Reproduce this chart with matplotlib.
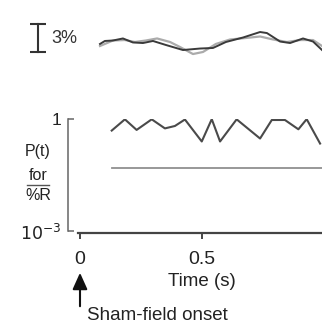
import matplotlib
matplotlib.use("Agg")
import matplotlib.pyplot as plt
from matplotlib.ticker import NullLocator, FixedLocator, FixedFormatter

plt.rcParams['font.family'] = ['Liberation Sans', 'DejaVu Sans']

# ---- data ----
t_dark = [0.082, 0.102, 0.135, 0.176, 0.217, 0.258, 0.299, 0.352, 0.422, 0.492,
          0.545, 0.598, 0.668, 0.738, 0.766, 0.820, 0.861, 0.914, 0.955, 0.992]
v_dark = [-0.21, 0.11, 0.16, 0.38, -0.05, -0.11, 0.11, -0.32, -0.86, -0.70,
          -0.64, 0.00, 0.48, 1.07, 0.96, 0.05, -0.11, 0.38, 0.05, -0.86]
t_gray = [0.082, 0.135, 0.184, 0.225, 0.270, 0.316, 0.369, 0.410, 0.463, 0.504,
          0.557, 0.615, 0.680, 0.738, 0.791, 0.848, 0.902, 0.955, 0.992]
v_gray = [-0.43, 0.16, 0.21, 0.00, 0.16, 0.38, 0.00, -0.54, -1.29, -1.07,
          -0.21, 0.27, 0.43, 0.59, 0.27, 0.00, 0.21, 0.21, -0.43]
t_p = [0.130, 0.184, 0.232, 0.294, 0.348, 0.389, 0.430, 0.499, 0.540, 0.574,
       0.642, 0.738, 0.786, 0.840, 0.895, 0.929, 0.984]
p_vals = [0.49, 0.98, 0.51, 0.98, 0.56, 0.65, 0.97, 0.25, 0.99, 0.25,
          0.98, 0.30, 0.94, 0.94, 0.53, 0.99, 0.22]
threshold = 0.05
threshold_t = [0.130, 1.0]
x_ticks = [0, 0.5, 1.0]
x_ticklabels = ['0', '0.5', '1']
y_ticks = [1e-3, 1]
y_ticklabels = ['$10^{-3}$', '1']
scale_pct = 3

W, H = 322, 325
fig = plt.figure(figsize=(W / 100, H / 100), dpi=100)

def rect(l, r, top, bot):
    return [l / W, 1 - bot / H, (r - l) / W, (bot - top) / H]

xlim = ((78 - 80) / 244, (322 - 80) / 244)

# ---- top traces ----
axt = fig.add_axes(rect(78, 322, 15, 62))
axt.set_xlim(*xlim)
axt.set_ylim(-2.144, 2.894)
axt.axis('off')
axt.plot(t_gray, v_gray, color='#ababab', lw=1.6, solid_joinstyle='round')
axt.plot(t_dark, v_dark, color='#3a3a3a', lw=1.4, solid_joinstyle='round')
# scale bar
xb = (38.3 - 80) / 244
y0, y1 = -1.1, -1.1 + scale_pct
axt.plot([xb, xb], [y0, y1], color='#333333', lw=1.5, clip_on=False)
axt.plot([xb, xb], [y0, y1], ls='none', marker='_', ms=11, mew=1.5,
         color='#333333', clip_on=False)
axt.text((51 - 80) / 244, 0.4, f'{scale_pct}%', fontsize=13, color='#333333',
         va='center', ha='left', clip_on=False)

# ---- bottom P(t) panel ----
ax = fig.add_axes(rect(78, 322, 119, 231))
ax.set_yscale('log')
ax.set_xlim(*xlim)
ax.set_ylim(1e-3, 1)
ax.plot(t_p, p_vals, color='#4a4a4a', lw=1.5, solid_joinstyle='round')
ax.plot(threshold_t, [threshold, threshold], color='#909090', lw=1.3)

for s in ['top', 'right']:
    ax.spines[s].set_visible(False)
ax.spines['left'].set_position(('outward', 7))
ax.spines['left'].set_color('#666666')
ax.spines['left'].set_linewidth(1.1)
ax.spines['bottom'].set_position(('outward', 1.5))
ax.spines['bottom'].set_color('#444444')
ax.spines['bottom'].set_linewidth(1.6)

ax.yaxis.set_major_locator(FixedLocator(y_ticks))
ax.yaxis.set_major_formatter(FixedFormatter(y_ticklabels))
ax.yaxis.set_minor_locator(NullLocator())
ax.tick_params(axis='y', direction='in', length=4, width=1.1, color='#666666',
               labelsize=12.5, pad=5, labelcolor='#222222')
ax.xaxis.set_major_locator(FixedLocator(x_ticks))
ax.xaxis.set_major_formatter(FixedFormatter(x_ticklabels))
ax.tick_params(axis='x', direction='out', length=4, width=1.4, color='#444444',
               labelsize=14, pad=9, labelcolor='#222222')

ax.text(0.5, -0.455, 'Time (s)', transform=ax.get_xaxis_transform(),
        fontsize=13.5, ha='center', va='center', color='#222222')

# y label stack
xl = 38 / W
fig.text(xl, 1 - 152 / H, 'P(t)', fontsize=11.5, ha='center', va='center', color='#222222')
fig.text(xl, 1 - 175 / H, 'for', fontsize=11.5, ha='center', va='center', color='#222222')
fig.add_artist(plt.Line2D([27 / W, 49 / W], [1 - 185 / H, 1 - 185 / H],
                          color='#555555', lw=1.0))
fig.text(xl, 1 - 196 / H, '%R', fontsize=11.5, ha='center', va='center', color='#222222')

# onset arrow
ax.annotate('', xy=(0, 1 - 270 / H), xycoords=('data', 'figure fraction'),
            xytext=(0, 1 - 309 / H), textcoords=('data', 'figure fraction'),
            arrowprops=dict(arrowstyle='-|>,head_width=0.45,head_length=1.0',
                            color='#111111', lw=1.5),
            annotation_clip=False)
fig.text(87 / W, 1 - 315 / H, 'Sham-field onset', fontsize=13.5, ha='left',
         va='center', color='#222222')

fig.savefig('out.png', dpi=100)
